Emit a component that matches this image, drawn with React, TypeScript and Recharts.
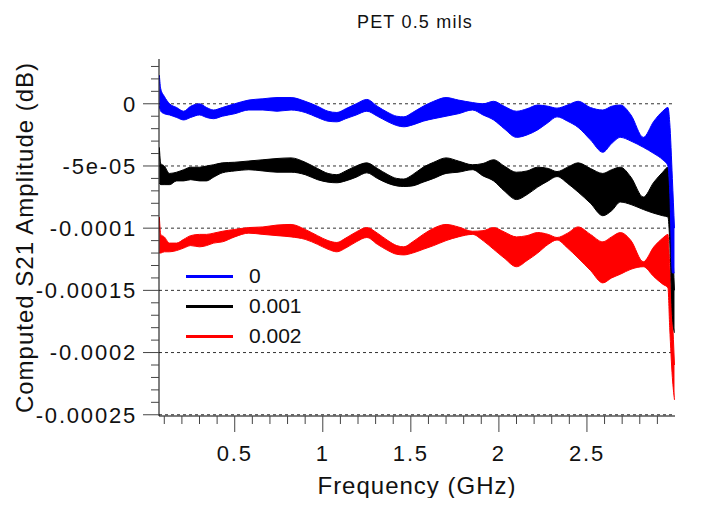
import React from "react";
import { ComposedChart, Area, XAxis, YAxis, CartesianGrid, Legend } from "recharts";

// frequency samples (GHz) and envelope of each trace (dB)
const freq = [
  0.072, 0.08, 0.1, 0.13, 0.17, 0.21, 0.25, 0.3, 0.34, 0.38, 0.43,
  0.5, 0.58, 0.66, 0.74, 0.82, 0.9, 0.97, 1.03, 1.08, 1.13, 1.19,
  1.25, 1.31, 1.37, 1.42, 1.46, 1.51, 1.57, 1.63, 1.7, 1.77, 1.85,
  1.91, 1.97, 2.03, 2.1, 2.16, 2.22, 2.28, 2.33, 2.39, 2.45, 2.52,
  2.59, 2.64, 2.69, 2.75, 2.82, 2.88, 2.93, 2.96, 2.97, 2.985, 2.997,
];

const blueHi = [
  2.3e-5, 1.2e-5, 0.6e-5, 0, -0.3e-5, -0.6e-5, -0.2e-5, 0, -0.3e-5, -0.5e-5, -0.3e-5,
  0, 0.3e-5, 0.4e-5, 0.5e-5, 0.5e-5, 0.2e-5, -0.2e-5, -0.6e-5, -0.7e-5, -0.4e-5, 0,
  0.35e-5, -0.2e-5, -0.7e-5, -1.0e-5, -1.05e-5, -0.7e-5, -0.2e-5, 0.2e-5, 0.5e-5, 0.3e-5, 0.1e-5,
  0, 0.2e-5, -0.2e-5, -0.6e-5, -0.4e-5, -0.1e-5, -0.2e-5, -0.35e-5, -0.1e-5, 0.2e-5, -0.3e-5,
  -0.5e-5, -0.2e-5, -0.1e-5, -0.9e-5, -2.7e-5, -1.4e-5, -0.6e-5, -0.3e-5, -1.5e-5, -6.0e-5, -10.0e-5,
];
const blueLo = [
  -0.2e-5, -0.6e-5, -0.8e-5, -0.9e-5, -1.1e-5, -1.3e-5, -1.1e-5, -0.9e-5, -1.1e-5, -1.2e-5, -1.0e-5,
  -0.8e-5, -0.5e-5, -0.5e-5, -0.6e-5, -0.5e-5, -0.7e-5, -1.1e-5, -1.4e-5, -1.45e-5, -1.2e-5, -0.9e-5,
  -0.6e-5, -1.0e-5, -1.45e-5, -1.75e-5, -1.85e-5, -1.7e-5, -1.4e-5, -1.2e-5, -1.0e-5, -0.8e-5, -0.5e-5,
  -0.9e-5, -1.3e-5, -2.0e-5, -2.7e-5, -2.5e-5, -2.1e-5, -1.5e-5, -1.05e-5, -1.4e-5, -1.9e-5, -2.9e-5,
  -3.9e-5, -3.2e-5, -2.7e-5, -3.0e-5, -3.5e-5, -4.0e-5, -4.5e-5, -5.0e-5, -7.0e-5, -13.6e-5, -13.6e-5,
];

const blackHi = [
  -3.5e-5, -4.8e-5, -5.0e-5, -5.6e-5, -5.5e-5, -5.3e-5, -5.1e-5, -5.1e-5, -5.0e-5, -4.9e-5, -4.75e-5,
  -4.7e-5, -4.6e-5, -4.5e-5, -4.4e-5, -4.35e-5, -4.7e-5, -5.2e-5, -5.6e-5, -5.7e-5, -5.4e-5, -5.0e-5,
  -4.75e-5, -5.2e-5, -5.7e-5, -6.0e-5, -6.05e-5, -5.7e-5, -5.1e-5, -4.7e-5, -4.35e-5, -4.6e-5, -4.9e-5,
  -4.8e-5, -4.5e-5, -5.0e-5, -5.5e-5, -5.4e-5, -5.1e-5, -5.2e-5, -5.45e-5, -5.1e-5, -4.75e-5, -5.2e-5,
  -5.6e-5, -5.3e-5, -5.1e-5, -5.9e-5, -7.5e-5, -6.3e-5, -5.5e-5, -5.1e-5, -7.0e-5, -11.0e-5, -15.0e-5,
];
const blackLo = [
  -6.4e-5, -6.5e-5, -6.5e-5, -6.5e-5, -6.2e-5, -6.2e-5, -6.1e-5, -6.2e-5, -6.2e-5, -5.9e-5, -5.55e-5,
  -5.4e-5, -5.3e-5, -5.4e-5, -5.5e-5, -5.5e-5, -5.7e-5, -6.1e-5, -6.3e-5, -6.35e-5, -6.2e-5, -5.9e-5,
  -5.55e-5, -6.0e-5, -6.4e-5, -6.6e-5, -6.65e-5, -6.6e-5, -6.3e-5, -6.0e-5, -5.6e-5, -5.5e-5, -5.3e-5,
  -5.8e-5, -6.2e-5, -7.0e-5, -7.7e-5, -7.3e-5, -6.7e-5, -6.2e-5, -5.85e-5, -6.4e-5, -7.1e-5, -8.0e-5,
  -9.0e-5, -8.6e-5, -7.9e-5, -8.1e-5, -8.5e-5, -8.8e-5, -9.0e-5, -9.1e-5, -11.0e-5, -17.0e-5, -18.4e-5,
];

const redHi = [
  -9.1e-5, -10.5e-5, -10.7e-5, -11.2e-5, -11.2e-5, -10.9e-5, -10.6e-5, -10.5e-5, -10.5e-5, -10.4e-5, -10.25e-5,
  -10.1e-5, -9.95e-5, -9.9e-5, -9.75e-5, -9.7e-5, -10.1e-5, -10.6e-5, -11.0e-5, -11.15e-5, -10.8e-5, -10.3e-5,
  -9.95e-5, -10.4e-5, -11.0e-5, -11.4e-5, -11.5e-5, -11.1e-5, -10.5e-5, -10.0e-5, -9.7e-5, -9.9e-5, -10.25e-5,
  -10.2e-5, -9.95e-5, -10.3e-5, -10.7e-5, -10.6e-5, -10.35e-5, -10.5e-5, -10.75e-5, -10.4e-5, -9.9e-5, -10.5e-5,
  -11.1e-5, -10.7e-5, -10.35e-5, -11.0e-5, -12.7e-5, -11.5e-5, -10.8e-5, -10.5e-5, -13.0e-5, -17.0e-5, -21.0e-5,
];
const redLo = [
  -12.0e-5, -12.0e-5, -11.9e-5, -11.9e-5, -11.8e-5, -11.6e-5, -11.4e-5, -11.5e-5, -11.4e-5, -11.2e-5, -11.1e-5,
  -10.7e-5, -10.4e-5, -10.5e-5, -10.6e-5, -10.7e-5, -10.9e-5, -11.3e-5, -11.7e-5, -11.9e-5, -11.6e-5, -11.1e-5,
  -10.75e-5, -11.3e-5, -11.8e-5, -12.1e-5, -12.15e-5, -12.0e-5, -11.7e-5, -11.4e-5, -11.0e-5, -10.7e-5, -10.5e-5,
  -11.0e-5, -11.7e-5, -12.4e-5, -13.1e-5, -12.6e-5, -12.0e-5, -11.3e-5, -10.95e-5, -11.6e-5, -12.4e-5, -13.4e-5,
  -14.4e-5, -14.0e-5, -13.7e-5, -13.3e-5, -13.1e-5, -13.9e-5, -14.5e-5, -14.8e-5, -18.0e-5, -22.0e-5, -23.8e-5,
];

const seriesNames = ["0", "0.001", "0.002"];
const seriesColors = ["#0000ff", "#000000", "#ff0000"];

const xMajorTicks = [0.5, 1, 1.5, 2, 2.5];
const xTickLabels = ["0.5", "1", "1.5", "2", "2.5"];
const xMinorTicks = [
  0.1, 0.2, 0.3, 0.4, 0.6, 0.7, 0.8, 0.9, 1.1, 1.2, 1.3, 1.4,
  1.6, 1.7, 1.8, 1.9, 2.1, 2.2, 2.3, 2.4, 2.6, 2.7, 2.8, 2.9,
];
const yMajorTicks = [0, -0.00005, -0.0001, -0.00015, -0.0002, -0.00025];
const yTickLabels = ["0", "-5e-05", "-0.0001", "-0.00015", "-0.0002", "-0.00025"];
const yMinorTicks = [
  0.00003, 0.00002, 0.00001, -0.00001, -0.00002, -0.00003, -0.00004,
  -0.00006, -0.00007, -0.00008, -0.00009, -0.00011, -0.00012, -0.00013, -0.00014,
  -0.00016, -0.00017, -0.00018, -0.00019, -0.00021, -0.00022, -0.00023, -0.00024,
];

const data = freq.map((f, i) => ({
  f,
  s0: [blueLo[i], blueHi[i]],
  s1: [blackLo[i], blackHi[i]],
  s2: [redLo[i], redHi[i]],
}));

const font = "'Liberation Sans', Arial, sans-serif";
const tickColor = "#444";

const majorIndex = (v: number, majors: number[]) =>
  majors.findIndex((m) => Math.abs(m - v) < 1e-12);

function BottomTick(props: any) {
  const { x, y, payload } = props;
  const i = majorIndex(payload.value, xMajorTicks);
  return (
    <g>
      <line x1={x} x2={x} y1={y} y2={y + (i >= 0 ? 16 : 8)} stroke={tickColor} />
      {i >= 0 && (
        <text x={x} y={y + 45} textAnchor="middle" fontSize={22} letterSpacing={1.8} fill="#111" fontFamily={font}>
          {xTickLabels[i]}
        </text>
      )}
    </g>
  );
}

function TopTick(props: any) {
  const { x, y, payload } = props;
  const i = majorIndex(payload.value, xMajorTicks);
  return <line x1={x} x2={x} y1={y} y2={y - (i >= 0 ? 16 : 8)} stroke={tickColor} />;
}

function LeftTick(props: any) {
  const { x, y, payload } = props;
  const i = majorIndex(payload.value, yMajorTicks);
  return (
    <g>
      <line x1={x - (i >= 0 ? 16 : 8)} x2={x} y1={y} y2={y} stroke={tickColor} />
      {i >= 0 && (
        <text x={x - 22} y={y} dy="0.36em" textAnchor="end" fontSize={22} letterSpacing={1.8} fill="#111" fontFamily={font}>
          {yTickLabels[i]}
        </text>
      )}
    </g>
  );
}

function RightTick(props: any) {
  const { x, y, payload } = props;
  const i = majorIndex(payload.value, yMajorTicks);
  return <line x1={x} x2={x + (i >= 0 ? 16 : 8)} y1={y} y2={y} stroke={tickColor} />;
}

function LegendBox({ payload }: any) {
  const items = [...(payload ?? [])].sort(
    (a: any, b: any) => seriesNames.indexOf(a.value) - seriesNames.indexOf(b.value)
  );
  return (
    <div style={{ fontFamily: font, fontSize: 21, color: "#111" }}>
      {items.map((it: any) => (
        <div key={it.value} style={{ display: "flex", alignItems: "center", height: 30 }}>
          <span style={{ display: "inline-block", width: 47, height: 3, background: it.color, marginRight: 16 }} />
          <span>{it.value}</span>
        </div>
      ))}
    </div>
  );
}

export default function App() {
  const xTicks = [...xMinorTicks, ...xMajorTicks];
  const yTicks = [...yMinorTicks, ...yMajorTicks];
  const order = [2, 1, 0];
  return (
    <ComposedChart width={685} height={490} data={data} margin={{ top: 51, right: 18, bottom: 22, left: 7 }}>
      <CartesianGrid
        xAxisId="bottom"
        yAxisId="left"
        vertical={false}
        horizontalValues={yMajorTicks}
        stroke="#333"
        strokeDasharray="3 3"
      />
      <XAxis
        xAxisId="bottom"
        type="number"
        dataKey="f"
        domain={[0.07, 3.0]}
        allowDataOverflow
        ticks={xTicks}
        interval={0}
        tickSize={0}
        tickMargin={0}
        tickLine={false}
        tick={<BottomTick />}
        height={60}
        axisLine={{ stroke: "#000" }}
      />
      <XAxis
        xAxisId="top"
        orientation="top"
        type="number"
        dataKey="f"
        domain={[0.07, 3.0]}
        allowDataOverflow
        ticks={xTicks}
        interval={0}
        tickSize={0}
        tickMargin={0}
        tickLine={false}
        tick={<TopTick />}
        height={0}
        axisLine={{ stroke: "#777", strokeWidth: 1.5 }}
      />
      <YAxis
        yAxisId="left"
        type="number"
        domain={[-0.000251, 0.000036]}
        allowDataOverflow
        ticks={yTicks}
        interval={0}
        tickSize={0}
        tickMargin={0}
        tickLine={false}
        tick={<LeftTick />}
        width={144}
        axisLine={{ stroke: "#000" }}
      />
      <YAxis
        yAxisId="right"
        orientation="right"
        type="number"
        domain={[-0.000251, 0.000036]}
        allowDataOverflow
        ticks={yTicks}
        interval={0}
        tickSize={0}
        tickMargin={0}
        tickLine={false}
        tick={<RightTick />}
        width={0}
        axisLine={{ stroke: "#777", strokeWidth: 1.5 }}
      />
      {order.map((k) => (
        <Area
          key={k}
          xAxisId="bottom"
          yAxisId="left"
          type="monotone"
          dataKey={`s${k}`}
          name={seriesNames[k]}
          stroke={seriesColors[k]}
          strokeWidth={1}
          fill={seriesColors[k]}
          fillOpacity={1}
          dot={false}
          activeDot={false}
          isAnimationActive={false}
        />
      ))}
      <Legend
        layout="vertical"
        align="center"
        verticalAlign="middle"
        content={<LegendBox />}
        wrapperStyle={{ left: 178, top: 253, width: "auto" }}
      />
      <text x={407} y={20} textAnchor="middle" fontSize={18} letterSpacing={1.2} fill="#111" fontFamily={font}>
        PET 0.5 mils
      </text>
      <text x={409} y={486} textAnchor="middle" fontSize={24} letterSpacing={1} fill="#111" fontFamily={font}>
        Frequency (GHz)
      </text>
      <text
        x={25}
        y={229.5}
        transform="rotate(-90, 25, 229.5)"
        textAnchor="middle"
        fontSize={24}
        letterSpacing={1}
        fill="#111"
        fontFamily={font}
      >
        Computed S21 Amplitude (dB)
      </text>
    </ComposedChart>
  );
}
